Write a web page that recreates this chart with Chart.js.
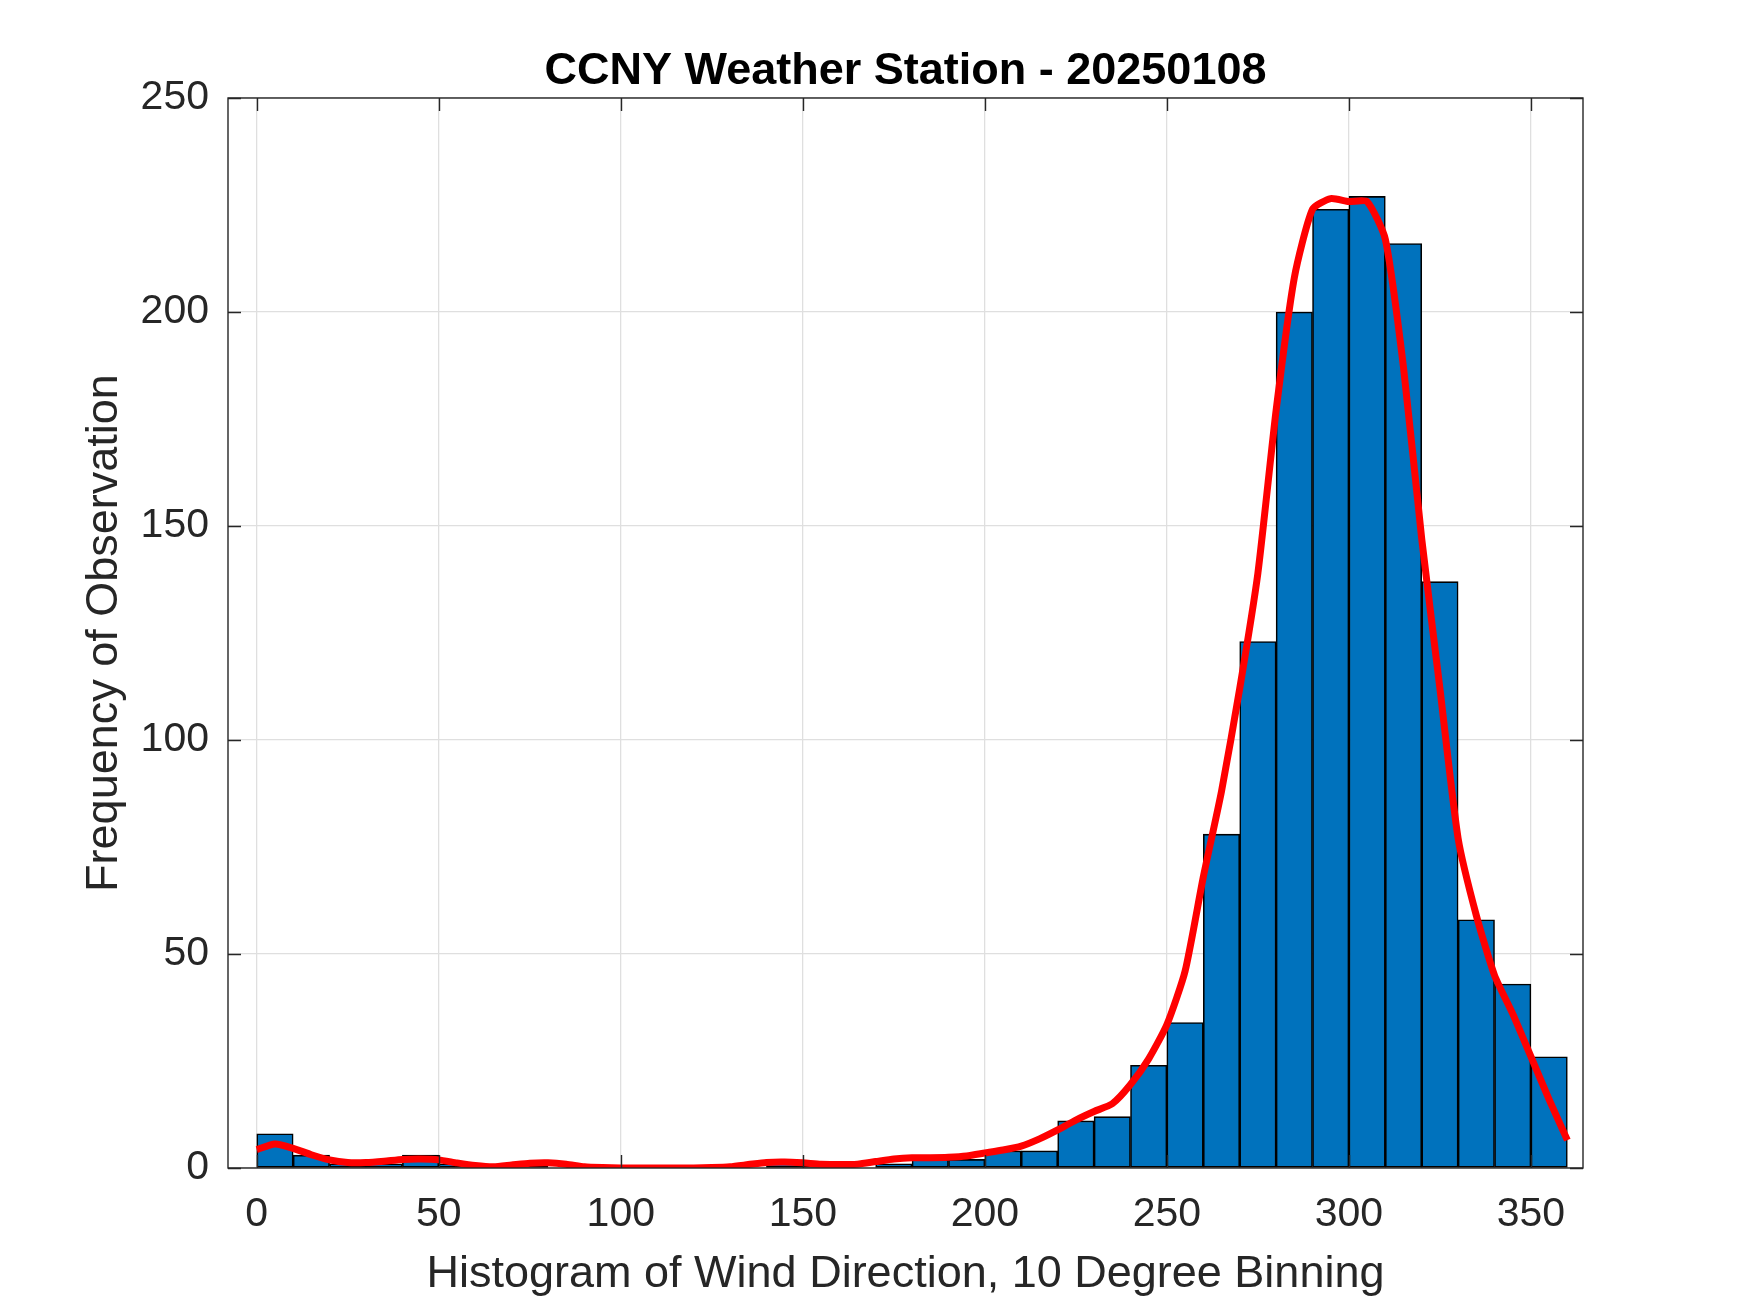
<!DOCTYPE html>
<html>
<head>
<meta charset="utf-8">
<script src="https://cdn.jsdelivr.net/npm/chart.js@4/dist/chart.umd.min.js"></script>
<style>
html,body{margin:0;padding:0;background:#ffffff;}
#wrap{width:1750px;height:1313px;}
</style>
</head>
<body>
<div id="wrap"><canvas id="c" width="1750" height="1313"></canvas></div>
<script>
// ---- data ----
const binCenters = [5,15,25,35,45,55,65,75,85,95,105,115,125,135,145,155,165,175,185,195,205,215,225,235,245,255,265,275,285,295,305,315,325,335,345,355];
const counts     = [8,3,1,1,3,1,0,1,0,0,0,0,0,0,1,1,0,1,2,2,4,4,11,12,24,34,78,123,200,224,227,216,137,58,43,26];
const curveX = [0,5,10,15,20,25,30,35,40,45,50,55,60,65,70,75,80,85,90,95,100,105,110,115,120,125,130,135,140,145,150,155,160,165,170,175,180,185,190,195,200,205,210,215,220,225,230,235,240,245,250,255,260,265,270,275,280,285,290,295,300,305,310,315,320,325,330,335,340,345,350,355,360];
const curveY = [4.3,5.6,4.6,3.1,1.9,1.3,1.3,1.6,2.0,2.1,1.9,1.2,0.6,0.3,0.7,1.1,1.2,0.9,0.3,0.1,0,0,0,0,0,0.1,0.3,0.8,1.3,1.4,1.2,0.9,0.8,0.9,1.5,2.1,2.4,2.4,2.5,2.8,3.5,4.2,5.1,6.8,8.9,11.2,13.2,15.0,19.5,25.5,33.5,46,68,88,112,139,177,208,224,226.5,225.8,225.8,217,187,147,112,77,59,45,36,26,16,6.5];
const xTickValues = [0,50,100,150,200,250,300,350];
const yTickValues = [0,50,100,150,200,250];
const titleText = 'CCNY Weather Station - 20250108';
const xLabel = 'Histogram of Wind Direction, 10 Degree Binning';
const yLabel = 'Frequency of Observation';

const FONT = "'Liberation Sans', Arial, Helvetica, sans-serif";
const AXIS_COLOR = '#262626';

const axesBoxPlugin = {
  id: 'axesBox',
  afterDatasetsDraw(chart) {
    const {ctx, chartArea: a, scales: {x, y}} = chart;
    const L = 13;
    ctx.save();
    ctx.strokeStyle = AXIS_COLOR;
    ctx.lineWidth = 1.4;
    ctx.beginPath();
    x.ticks.forEach(t => {
      const px = Math.round(x.getPixelForValue(t.value)) + 0.5;
      ctx.moveTo(px, a.bottom); ctx.lineTo(px, a.bottom - L);
      ctx.moveTo(px, a.top); ctx.lineTo(px, a.top + L);
    });
    y.ticks.forEach(t => {
      const py = Math.round(y.getPixelForValue(t.value)) + 0.5;
      ctx.moveTo(a.left, py); ctx.lineTo(a.left + L, py);
      ctx.moveTo(a.right, py); ctx.lineTo(a.right - L, py);
    });
    ctx.stroke();
    ctx.strokeRect(a.left, a.top, a.right - a.left, a.bottom - a.top);
    ctx.restore();
  }
};

new Chart(document.getElementById('c'), {
  type: 'bar',
  data: {
    datasets: [
      {
        type: 'line',
        label: 'fit',
        data: curveX.map((v, i) => ({x: v, y: curveY[i]})),
        borderColor: '#ff0000',
        borderWidth: 7,
        pointRadius: 0,
        tension: 0.2,
        fill: false,
        borderJoinStyle: 'round',
        order: 0
      },
      {
        type: 'bar',
        label: 'counts',
        data: binCenters.map((v, i) => ({x: v, y: counts[i]})),
        backgroundColor: '#0072bd',
        borderColor: '#000000',
        borderWidth: 1.6,
        borderSkipped: false,
        barPercentage: 1.0,
        categoryPercentage: 1.0,
        order: 1
      }
    ]
  },
  options: {
    responsive: false,
    maintainAspectRatio: false,
    devicePixelRatio: 1,
    animation: false,
    layout: {padding: {left: 0, right: 167, top: 0, bottom: 0}},
    plugins: {
      legend: {display: false},
      tooltip: {enabled: false},
      title: {
        display: true,
        text: titleText,
        fullSize: false,
        color: '#000000',
        font: {family: FONT, size: 45, weight: 'bold', lineHeight: 1.2},
        padding: {top: 45, bottom: -1}
      }
    },
    scales: {
      x: {
        type: 'linear',
        min: -7.9,
        max: 364.3,
        offset: false,
        afterBuildTicks: s => { s.ticks = xTickValues.map(v => ({value: v})); },
        afterFit: s => { s.height = 145; },
        grid: {color: '#dfdfdf', lineWidth: 1.3, drawTicks: false, offset: false},
        border: {display: false},
        ticks: {
          color: AXIS_COLOR,
          font: {family: FONT, size: 41},
          padding: 22,
          maxRotation: 0,
          autoSkip: false
        },
        title: {
          display: true,
          text: xLabel,
          color: AXIS_COLOR,
          font: {family: FONT, size: 45, lineHeight: 1.2},
          padding: {top: 0, bottom: 11}
        }
      },
      y: {
        type: 'linear',
        min: 0,
        max: 250,
        afterBuildTicks: s => { s.ticks = yTickValues.map(v => ({value: v})); },
        afterFit: s => { s.width = 228; },
        grid: {color: '#dfdfdf', lineWidth: 1.3, drawTicks: false},
        border: {display: false},
        ticks: {
          color: AXIS_COLOR,
          font: {family: FONT, size: 41},
          padding: 19
        },
        title: {
          display: true,
          text: yLabel,
          color: AXIS_COLOR,
          font: {family: FONT, size: 45, lineHeight: 1.2},
          padding: {top: 78, bottom: 0}
        }
      }
    }
  },
  plugins: [axesBoxPlugin]
});
</script>
</body>
</html>
